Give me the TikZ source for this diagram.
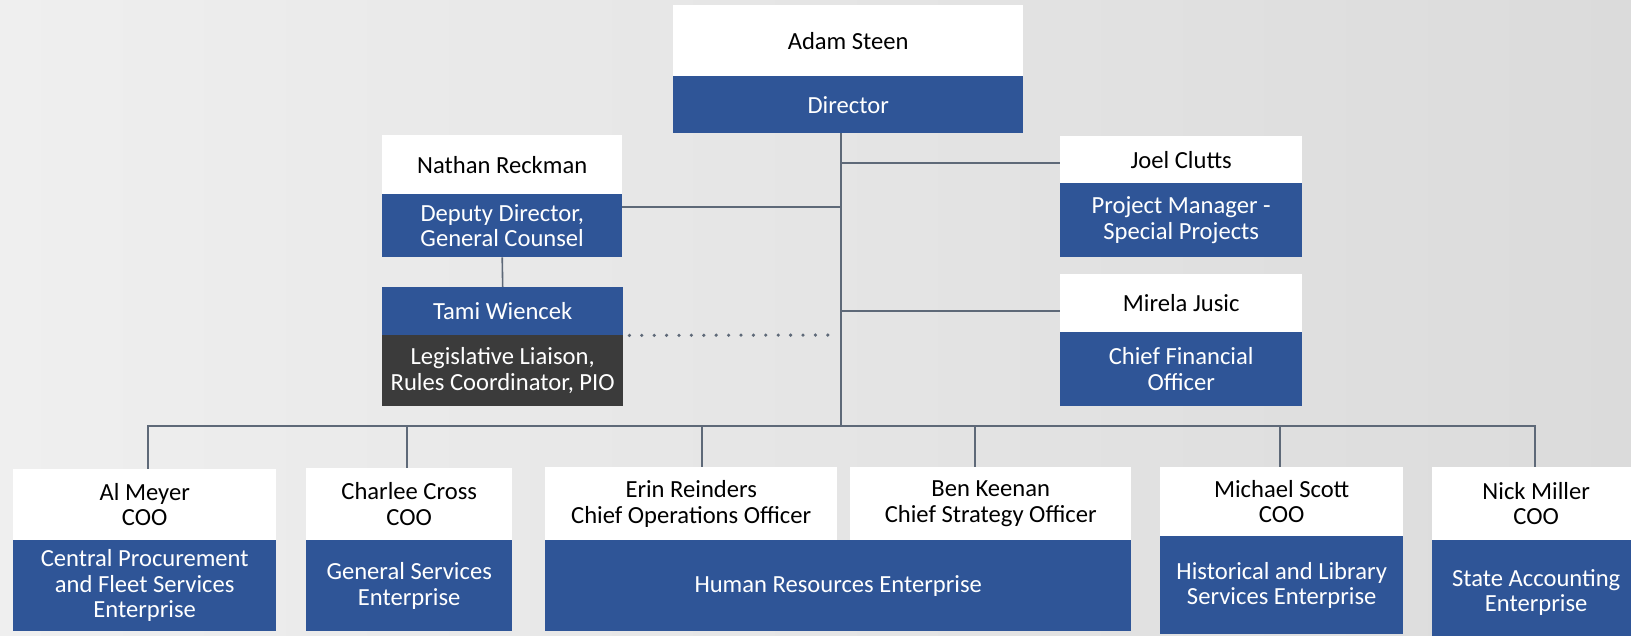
\documentclass[tikz,border=0pt]{standalone}
\usepackage{fontspec}
\setmainfont{Carlito}

\definecolor{bgleft}{HTML}{EFEFEF}
\definecolor{bgright}{HTML}{DBDBDB}
\definecolor{roleblue}{HTML}{2F5597}
\definecolor{liaisongray}{HTML}{3B3B3B}
\definecolor{linegray}{HTML}{5E6978}

\begin{document}
\begin{tikzpicture}[
	x=1pt, y=-1pt,
	card/.style={anchor=north west, inner sep=0pt, align=center, font=\fontsize{24.6}{25.5}\selectfont},
	name box/.style={card, fill=white, text=black},
	role box/.style={card, fill=roleblue, text=white},
	liaison box/.style={card, fill=liaisongray, text=white},
	chart line/.style={draw=linegray, line width=1.6pt},
	dotted link/.style={draw=linegray, line width=3.6pt, line cap=round, dash pattern=on 0pt off 12.4pt}
	]
	% id, left, top, width, split, bottom, name, title
	\newcommand{\drawcard}[8]{
		\node[name box, minimum width=#4, minimum height=#5-#3] (#1-name) at (#2,#3) {#7};
		\node[role box, minimum width=#4, minimum height=#6-#5] (#1-role) at (#2,#5) {#8};
	}
	\useasboundingbox (0,0) rectangle (1631,635);
	\clip (0,0) rectangle (1631,635);
	\shade[left color=bgleft, right color=bgright] (0,0) rectangle (1631,635);

	% director and staff
	\drawcard{steen}{673}{5}{350}{76}{133}{Adam Steen}{Director}
	\drawcard{reckman}{382}{135}{240}{194}{257}{Nathan Reckman}{Deputy Director,\\General Counsel}
	\drawcard{clutts}{1060}{136}{242}{183}{257}{Joel Clutts}{Project Manager -\\Special Projects}
	\drawcard{jusic}{1060}{274}{242}{332}{406}{Mirela Jusic}{Chief Financial\\Officer}
	\node[role box, minimum width=241, minimum height=48] (wiencek-name) at (382,287) {Tami Wiencek};
	\node[liaison box, minimum width=241, minimum height=71] (wiencek-role) at (382,335) {Legislative Liaison,\\Rules Coordinator, PIO};

	% enterprises
	\drawcard{meyer}{13}{469}{263}{540}{631}{Al Meyer\\COO}{Central Procurement\\and Fleet Services\\Enterprise}
	\drawcard{cross}{306}{468}{206}{540}{631}{Charlee Cross\\COO}{General Services\\Enterprise}
	\node[name box, minimum width=292, minimum height=73] (reinders-name) at (545,467) {Erin Reinders\\Chief Operations Officer};
	\node[name box, minimum width=281, minimum height=73] (keenan-name) at (850,467) {Ben Keenan\\Chief Strategy Officer};
	\node[role box, minimum width=586, minimum height=91] (hr-role) at (545,540) {Human Resources Enterprise};
	\drawcard{scott}{1160}{467}{243}{536}{634}{Michael Scott\\COO}{Historical and Library\\Services Enterprise}
	\drawcard{miller}{1432}{467}{208}{540}{645}{Nick Miller\\COO}{State Accounting\\Enterprise}

	% connectors
	\coordinate (spine) at (841,133);
	\coordinate (hub) at (841,426);
	\coordinate (clutts-tap) at (841,163);
	\coordinate (reckman-tap) at (841,207);
	\coordinate (jusic-tap) at (841,311);
	\coordinate (liaison-end) at (835,335);
	\draw[chart line] (spine) -- (hub);
	\draw[chart line] (clutts-tap) -- (clutts-name.west |- clutts-tap);
	\draw[chart line] (jusic-tap) -- (jusic-name.west |- jusic-tap);
	\draw[chart line] (reckman-role.east |- reckman-tap) -- (reckman-tap);
	\draw[chart line] (reckman-role.south) -- (wiencek-name.north);
	\draw[dotted link] ([xshift=6pt]wiencek-name.south east) -- (liaison-end);
	\foreach \who/\dx in {meyer/3.5, cross/-2, reinders/11, keenan/-15.5, scott/-1.5, miller/-1}
		\draw[chart line] (hub) -| ([xshift=\dx pt]\who-name.north);
\end{tikzpicture}
\end{document}
